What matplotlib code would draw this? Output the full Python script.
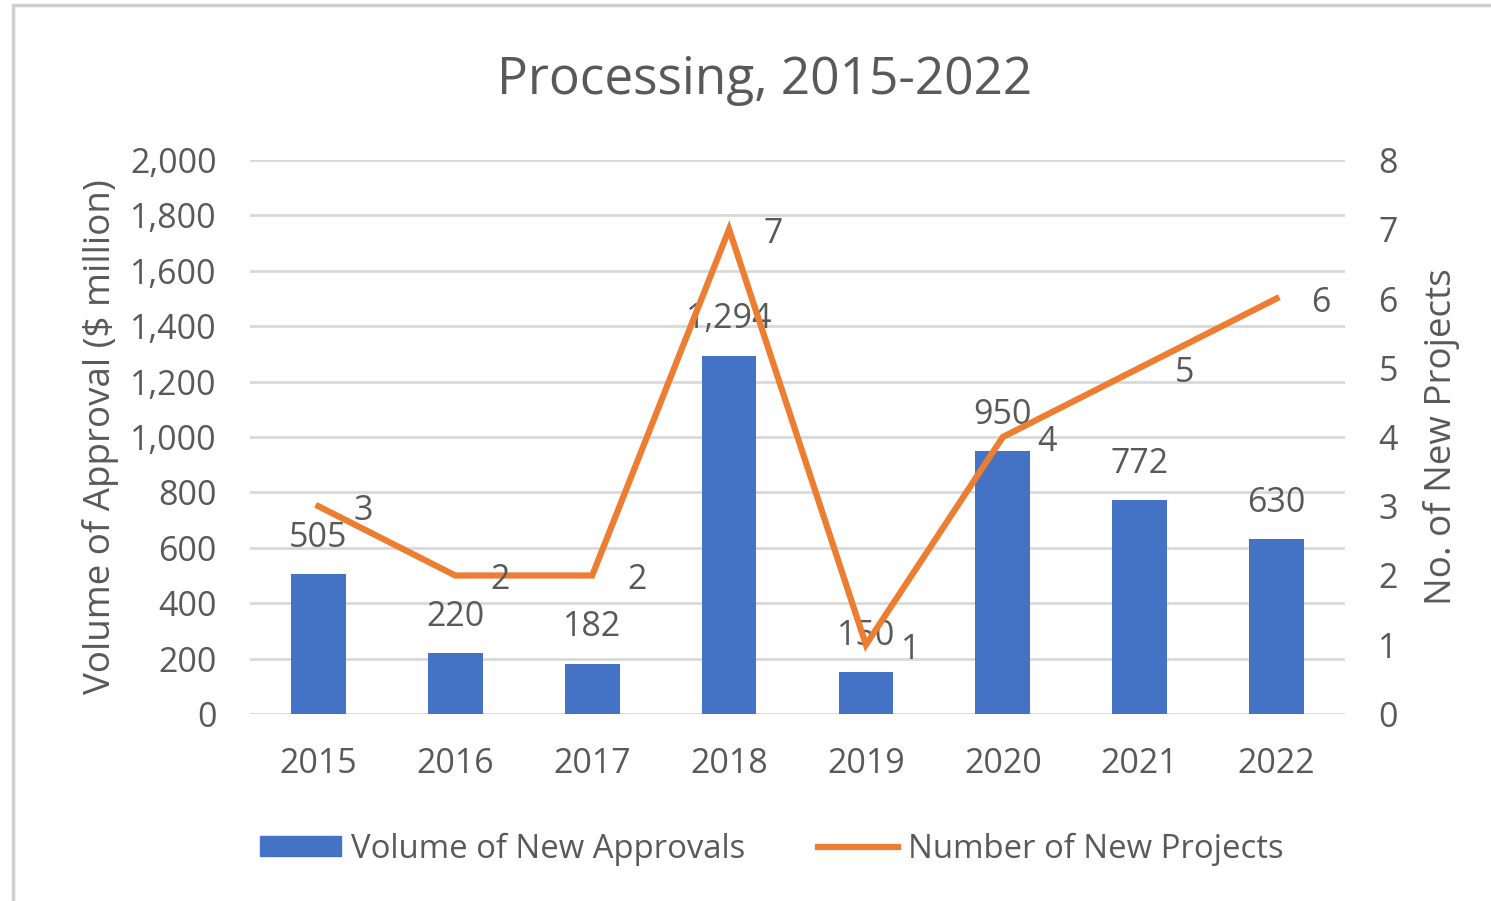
import matplotlib.pyplot as plt
from matplotlib.patches import Rectangle
from matplotlib.lines import Line2D
from matplotlib.ticker import FuncFormatter
import numpy as np

plt.rcParams['font.family'] = ['Open Sans', 'DejaVu Sans']

years = ['2015', '2016', '2017', '2018', '2019', '2020', '2021', '2022']
volume = [505, 220, 182, 1294, 150, 950, 772, 630]
projects = [3, 2, 2, 7, 1, 4, 5, 6]

TXT = '#595959'
GRID = '#D9D9D9'
BLUE = '#4472C4'
ORANGE = '#ED7D31'

fig = plt.figure(figsize=(14.91, 9.01), dpi=100)
ax = fig.add_axes([250/1491, 1 - 714/901, 1095/1491, 554/901])
ax2 = ax.twinx()

x = np.arange(len(years))
ax.bar(x, volume, width=0.4, color=BLUE, zorder=2)
ax.set_ylim(0, 2000)
ax.set_xlim(-0.5, len(years) - 0.5)
ax.set_yticks(np.arange(0, 2001, 200))
ax.yaxis.set_major_formatter(FuncFormatter(lambda v, p: f'{int(v):,}'))
ax.grid(axis='y', color=GRID, linewidth=2, zorder=0)
ax.set_axisbelow(True)
ax.set_xticks(x)
ax.set_xticklabels(years)

ax2.plot(x, projects, color=ORANGE, linewidth=4.5, solid_joinstyle='miter', zorder=3)
ax2.set_ylim(0, 8)
ax2.set_yticks(range(0, 9))

FS = 24.5
for a in (ax, ax2):
    for s in a.spines.values():
        s.set_visible(False)
    a.tick_params(length=0, labelsize=FS, labelcolor=TXT, pad=24)

ax.set_ylabel('Volume of Approval ($ million)', fontsize=26.5, color=TXT, labelpad=8)
ax2.set_ylabel('No. of New Projects', fontsize=26.5, color=TXT, labelpad=18)

for xi, v in zip(x, volume):
    ax.annotate(f'{v:,}', (xi, v), xytext=(0, 26), textcoords='offset points',
                ha='center', va='center', fontsize=FS, color=TXT, zorder=4)
for xi, p in zip(x, projects):
    ax2.annotate(str(p), (xi, p), xytext=(32, -3.5), textcoords='offset points',
                 ha='center', va='center', fontsize=FS, color=TXT, zorder=4)

fig.text(765/1491, 1 - 80/901, 'Processing, 2015-2022', ha='center', va='center',
         fontsize=37, color=TXT)

handles = [Rectangle((0, 0), 1, 1, color=BLUE),
           Line2D([0], [0], color=ORANGE, linewidth=4.5)]
fig.legend(handles, ['Volume of New Approvals', 'Number of New Projects'],
           loc='center', bbox_to_anchor=(772/1491, 1 - 849/901), ncol=2,
           frameon=False, fontsize=23.7, labelcolor=TXT, handlelength=2.45,
           handleheight=0.55, handletextpad=0.3, columnspacing=2.2)

# light frame on top and left edge like the screenshot crop
fig.add_artist(Rectangle((13/1491, -0.1), 1.2, 1 - 5/901 + 0.1, transform=fig.transFigure,
                         fill=False, edgecolor='#D0D0D0', linewidth=2.5))

fig.savefig('out.png', dpi=100)
